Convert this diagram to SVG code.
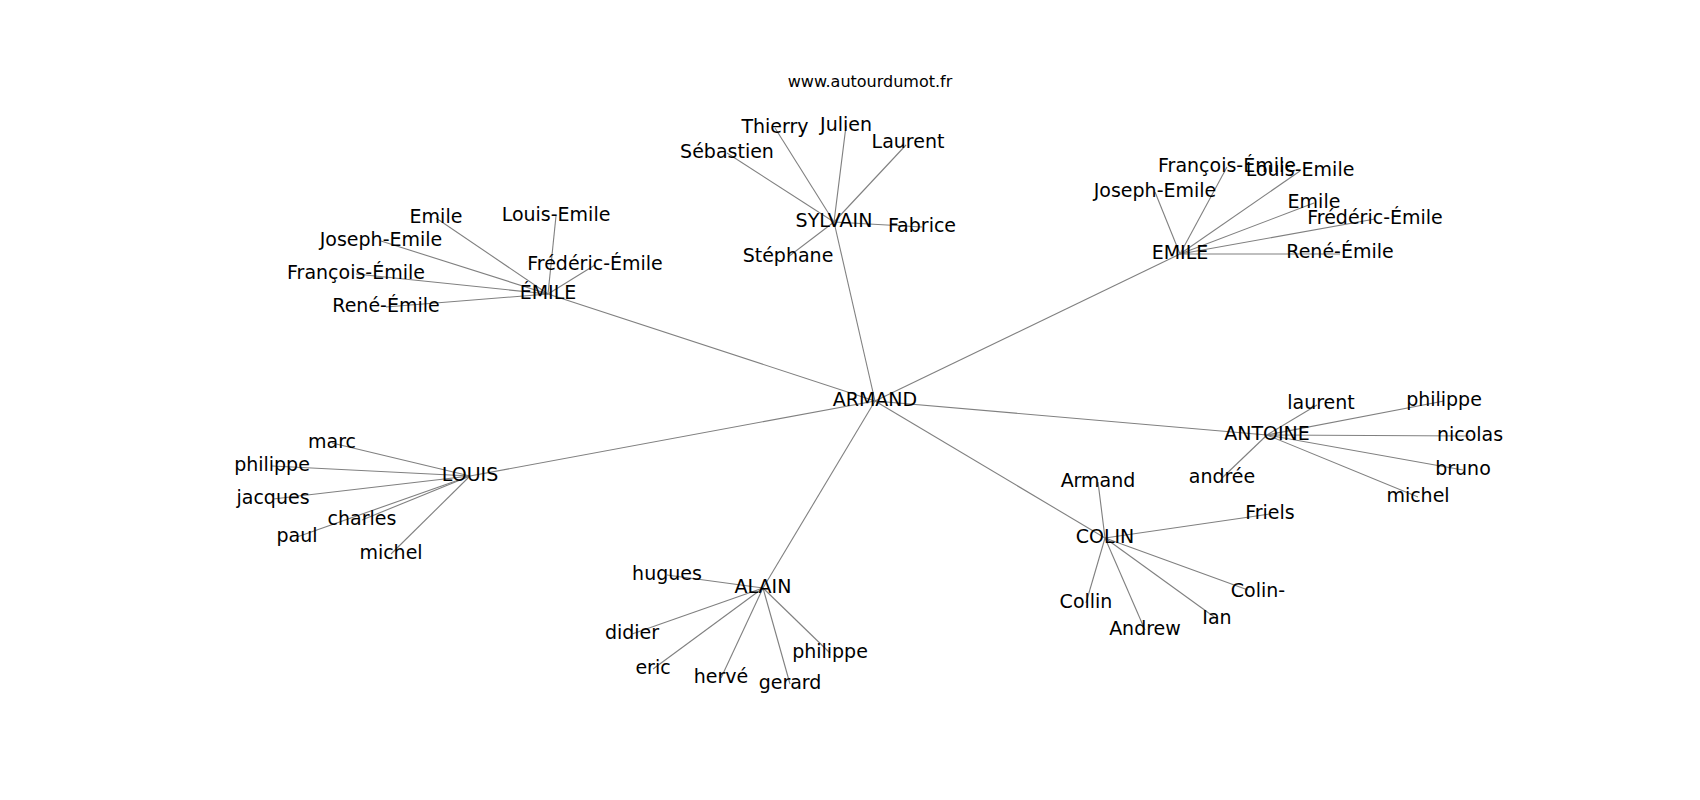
<svg xmlns="http://www.w3.org/2000/svg" width="1700" height="800" viewBox="0 0 1700 800">
<style>
text{font-family:"DejaVu Sans","Liberation Sans",sans-serif;font-size:19px;fill:#000;text-anchor:middle}
.t{font-size:16px}
#edges line{stroke:#808080;stroke-width:1.1}
</style>
<rect width="1700" height="800" fill="#fff"/>
<text class="t" x="870" y="87">www.autourdumot.fr</text>
<g id="edges">
<line x1="875" y1="401" x2="834" y2="222"/>
<line x1="875" y1="401" x2="548" y2="294"/>
<line x1="875" y1="401" x2="1180" y2="254"/>
<line x1="875" y1="401" x2="470" y2="476"/>
<line x1="875" y1="401" x2="1267" y2="435"/>
<line x1="875" y1="401" x2="1105" y2="538"/>
<line x1="875" y1="401" x2="763" y2="588"/>
<line x1="548" y1="294" x2="436" y2="218"/>
<line x1="548" y1="294" x2="556" y2="216"/>
<line x1="548" y1="294" x2="381" y2="241"/>
<line x1="548" y1="294" x2="595" y2="265"/>
<line x1="548" y1="294" x2="356" y2="274"/>
<line x1="548" y1="294" x2="386" y2="307"/>
<line x1="834" y1="222" x2="775" y2="128"/>
<line x1="834" y1="222" x2="846" y2="126"/>
<line x1="834" y1="222" x2="906" y2="145"/>
<line x1="834" y1="222" x2="727" y2="153"/>
<line x1="834" y1="222" x2="922" y2="227"/>
<line x1="834" y1="222" x2="788" y2="257"/>
<line x1="1180" y1="254" x2="1227" y2="167"/>
<line x1="1180" y1="254" x2="1300" y2="171"/>
<line x1="1180" y1="254" x2="1155" y2="192"/>
<line x1="1180" y1="254" x2="1314" y2="203"/>
<line x1="1180" y1="254" x2="1375" y2="219"/>
<line x1="1180" y1="254" x2="1340" y2="254"/>
<line x1="470" y1="476" x2="332" y2="443"/>
<line x1="470" y1="476" x2="272" y2="466"/>
<line x1="470" y1="476" x2="273" y2="499"/>
<line x1="470" y1="476" x2="362" y2="520"/>
<line x1="470" y1="476" x2="297" y2="537"/>
<line x1="470" y1="476" x2="391" y2="554"/>
<line x1="1267" y1="435" x2="1317" y2="405"/>
<line x1="1267" y1="435" x2="1444" y2="401"/>
<line x1="1267" y1="435" x2="1470" y2="436"/>
<line x1="1267" y1="435" x2="1463" y2="470"/>
<line x1="1267" y1="435" x2="1418" y2="497"/>
<line x1="1267" y1="435" x2="1222" y2="478"/>
<line x1="763" y1="588" x2="667" y2="575"/>
<line x1="763" y1="588" x2="632" y2="634"/>
<line x1="763" y1="588" x2="830" y2="653"/>
<line x1="763" y1="588" x2="653" y2="669"/>
<line x1="763" y1="588" x2="721" y2="678"/>
<line x1="763" y1="588" x2="790" y2="684"/>
<line x1="1105" y1="538" x2="1098" y2="482"/>
<line x1="1105" y1="538" x2="1270" y2="514"/>
<line x1="1105" y1="538" x2="1248" y2="590"/>
<line x1="1105" y1="538" x2="1217" y2="619"/>
<line x1="1105" y1="538" x2="1086" y2="603"/>
<line x1="1105" y1="538" x2="1145" y2="630"/>
</g>
<g id="n-armand"><text x="875" y="406">ARMAND</text></g>
<g id="n-sylvain"><text x="834" y="227">SYLVAIN</text></g>
<g id="n-emile-acc"><text x="548" y="299">ÉMILE</text></g>
<g id="n-emile"><text x="1180" y="259">EMILE</text></g>
<g id="n-louis"><text x="470" y="481">LOUIS</text></g>
<g id="n-antoine"><text x="1267" y="440">ANTOINE</text></g>
<g id="n-colin"><text x="1105" y="543">COLIN</text></g>
<g id="n-alain"><text x="763" y="593">ALAIN</text></g>
<g id="n-e1"><text x="436" y="223">Emile</text></g>
<g id="n-e2"><text x="556" y="221">Louis-Emile</text></g>
<g id="n-e3"><text x="381" y="246">Joseph-Emile</text></g>
<g id="n-e4"><text x="595" y="270">Frédéric-Émile</text></g>
<g id="n-e5"><text x="356" y="279">François-Émile</text></g>
<g id="n-e6"><text x="386" y="312">René-Émile</text></g>
<g id="n-s1"><text x="775" y="133">Thierry</text></g>
<g id="n-s2"><text x="846" y="131">Julien</text></g>
<g id="n-s3"><text x="908" y="148">Laurent</text></g>
<g id="n-s4"><text x="727" y="158">Sébastien</text></g>
<g id="n-s5"><text x="922" y="232">Fabrice</text></g>
<g id="n-s6"><text x="788" y="262">Stéphane</text></g>
<g id="n-m1"><text x="1227" y="172">François-Émile</text></g>
<g id="n-m2"><text x="1300" y="176">Louis-Emile</text></g>
<g id="n-m3"><text x="1155" y="197">Joseph-Emile</text></g>
<g id="n-m4"><text x="1314" y="208">Emile</text></g>
<g id="n-m5"><text x="1375" y="224">Frédéric-Émile</text></g>
<g id="n-m6"><text x="1340" y="258">René-Émile</text></g>
<g id="n-l1"><text x="332" y="448">marc</text></g>
<g id="n-l2"><text x="272" y="471">philippe</text></g>
<g id="n-l3"><text x="273" y="504">jacques</text></g>
<g id="n-l4"><text x="362" y="525">charles</text></g>
<g id="n-l5"><text x="297" y="542">paul</text></g>
<g id="n-l6"><text x="391" y="559">michel</text></g>
<g id="n-a1"><text x="1321" y="409">laurent</text></g>
<g id="n-a2"><text x="1444" y="406">philippe</text></g>
<g id="n-a3"><text x="1470" y="441">nicolas</text></g>
<g id="n-a4"><text x="1463" y="475">bruno</text></g>
<g id="n-a5"><text x="1418" y="502">michel</text></g>
<g id="n-a6"><text x="1222" y="483">andrée</text></g>
<g id="n-p1"><text x="667" y="580">hugues</text></g>
<g id="n-p2"><text x="632" y="639">didier</text></g>
<g id="n-p3"><text x="830" y="658">philippe</text></g>
<g id="n-p4"><text x="653" y="674">eric</text></g>
<g id="n-p5"><text x="721" y="683">hervé</text></g>
<g id="n-p6"><text x="790" y="689">gerard</text></g>
<g id="n-c1"><text x="1098" y="487">Armand</text></g>
<g id="n-c2"><text x="1270" y="519">Friels</text></g>
<g id="n-c3"><text x="1258" y="597">Colin-</text></g>
<g id="n-c4"><text x="1217" y="624">Ian</text></g>
<g id="n-c5"><text x="1086" y="608">Collin</text></g>
<g id="n-c6"><text x="1145" y="635">Andrew</text></g>
</svg>
